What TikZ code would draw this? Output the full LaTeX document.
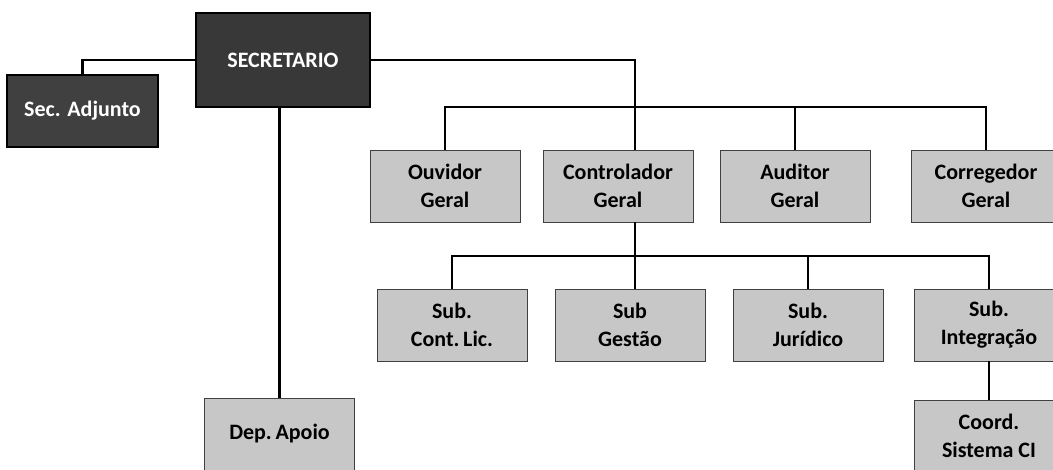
\documentclass[tikz,border=0pt]{standalone}
\usepackage{fontspec}
\setmainfont{Carlito}
\begin{document}
\begin{tikzpicture}[x=1pt,y=-1pt,
  chief/.style={draw=black,line width=1.2pt,fill=black!78,text=white,minimum width=174pt,minimum height=94pt,inner sep=0pt,font=\bfseries\fontsize{22}{27}\selectfont},
  deputy/.style={draw=black,line width=1.2pt,fill=black!75,text=white!90,minimum width=151pt,minimum height=72pt,inner sep=0pt,font=\bfseries\fontsize{22}{27}\selectfont},
  unit/.style={draw=black!75,line width=0.9pt,fill=black!22,minimum width=150pt,minimum height=72pt,inner sep=0pt,align=center,font=\bfseries\fontsize{22}{28}\selectfont},
  conn/.style={line width=2.2pt,black}]
\useasboundingbox (0,0) rectangle (1053,470);

% top level
\node[chief] (sec) at (283,60) {SECRETARIO};
\node[deputy] (adj) at (82.5,111) {Sec. Adjunto};
\node[unit] (dep) at (279.5,434) {Dep.\,Apoio};

% first row
\node[unit] (ouv) at (445,186) {Ouvidor\\Geral};
\node[unit] (ctl) at (618,186) {Controlador\\Geral};
\node[unit] (aud) at (795,186) {Auditor\\Geral};
\node[unit] (cor) at (986,186) {Corregedor\\Geral};

% second row
\node[unit] (lic) at (452,325) {Sub.\\Cont.\,Lic.};
\node[unit] (ges) at (630,325) {Sub\\Gestão};
\node[unit] (jur) at (808,325) {Sub.\\Jurídico};
\node[unit] (int) at (989,325) {Sub.\\Integração};
\node[unit] (crd) at (989,436) {Coord.\\Sistema CI};

\coordinate (bus1) at (635,107);
\coordinate (bus2) at (635,256);

% connectors
\draw[conn] (sec.west) -| (adj.north);
\draw[conn] (sec.south -| dep.north) -- (dep.north);
\draw[conn] (sec.east) -| (bus1) -- (bus1 |- ctl.north);
\draw[conn] (ouv.north) |- (bus1) -| (cor.north);
\draw[conn] (aud.north) -- (aud.north |- bus1);
\draw[conn] (bus1 |- ctl.south) -- (bus2) -- (bus2 |- ges.north);
\draw[conn] (lic.north) |- (bus2) -| (int.north);
\draw[conn] (jur.north) -- (jur.north |- bus2);
\draw[conn] (int.south) -- (crd.north);
\end{tikzpicture}
\end{document}
